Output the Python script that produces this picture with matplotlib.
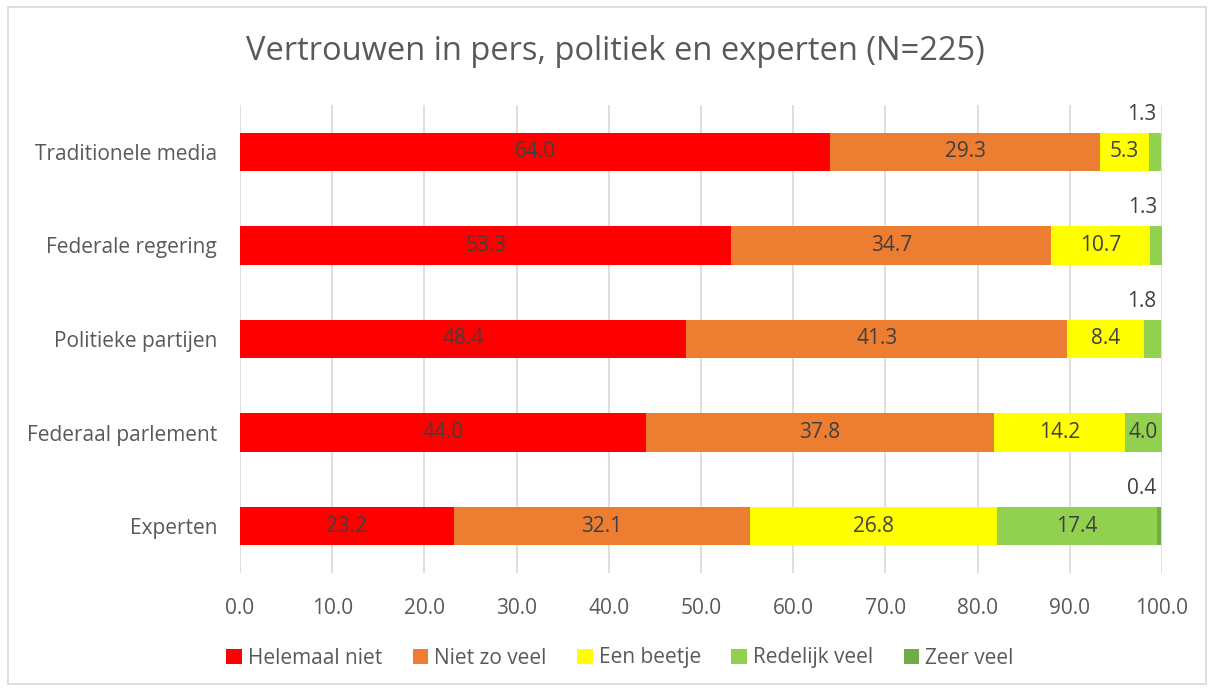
import matplotlib
matplotlib.use("Agg")
import matplotlib.pyplot as plt
from matplotlib.patches import Rectangle
import numpy as np

plt.rcParams['font.family'] = ['Open Sans', 'DejaVu Sans']

categories = ["Traditionele media", "Federale regering", "Politieke partijen",
              "Federaal parlement", "Experten"]
series_names = ["Helemaal niet", "Niet zo veel", "Een beetje", "Redelijk veel", "Zeer veel"]
helemaal_niet = [64.0, 53.3, 48.4, 44.0, 23.2]
niet_zo_veel = [29.3, 34.7, 41.3, 37.8, 32.1]
een_beetje = [5.3, 10.7, 8.4, 14.2, 26.8]
redelijk_veel = [1.3, 1.3, 1.8, 4.0, 17.4]
zeer_veel = [0.0, 0.0, 0.0, 0.0, 0.4]
colors = ["#FF0000", "#ED7D31", "#FFFF00", "#92D050", "#70AD47"]
xticks = [0, 10, 20, 30, 40, 50, 60, 70, 80, 90, 100]

W, H = 1214, 690
fig = plt.figure(figsize=(W / 100, H / 100), dpi=100)
ax = fig.add_axes([240 / W, 1 - 573 / H, (1162 - 240) / W, (573 - 105) / H])

FS = 15
series = [helemaal_niet, niet_zo_veel, een_beetje, redelijk_veel, zeer_veel]
y = np.arange(len(categories))
left = np.zeros(len(categories))
txtcol = "#404040"
for name, vals, c in zip(series_names, series, colors):
    vals = np.array(vals)
    ax.barh(y, vals, left=left, height=0.41, color=c, label=name, zorder=3)
    for i, v in enumerate(vals):
        if v <= 0:
            continue
        if v >= 3.5:
            ax.text(left[i] + v / 2, y[i], f"{v:.1f}", ha="center", va="center",
                    fontsize=FS, color=txtcol, zorder=4)
        else:
            ax.text(left[i] + v - 0.5, y[i] - 0.40, f"{v:.1f}", ha="right", va="center",
                    fontsize=FS, color=txtcol, zorder=4)
    left += vals

ax.set_ylim(4.5, -0.5)
ax.set_xlim(0, 100)
ax.set_yticks(y)
ax.set_yticklabels(categories, fontsize=FS, color="#595959")
ax.set_xticks(xticks)
ax.set_xticklabels([f"{t:.1f}" for t in xticks], fontsize=FS, color="#595959")
ax.tick_params(axis="both", length=0)
ax.tick_params(axis="x", pad=18)
ax.tick_params(axis="y", pad=16.5)
ax.grid(axis="x", color="#D9D9D9", linewidth=1.2, zorder=0)
for s in ax.spines.values():
    s.set_visible(False)

fig.text(0.5 * (245 + 985) / W, 1 - 52 / H, "Vertrouwen in pers, politiek en experten (N=225)",
         ha="center", va="center", fontsize=23.5, color="#595959")

leg = fig.legend(loc="center", bbox_to_anchor=(620 / W, 1 - 658 / H), ncol=5, frameon=False,
                 fontsize=FS, handlelength=0.75, handleheight=0.75, handletextpad=0.3,
                 columnspacing=1.45, labelcolor="#595959")

fig.patches.append(Rectangle((8 / W, 1 - 684 / H), (1206 - 8) / W, (684 - 7) / H,
                             transform=fig.transFigure, fill=False, edgecolor="#D9D9D9",
                             linewidth=1.2))

fig.savefig("out.png", dpi=100, facecolor="white")
